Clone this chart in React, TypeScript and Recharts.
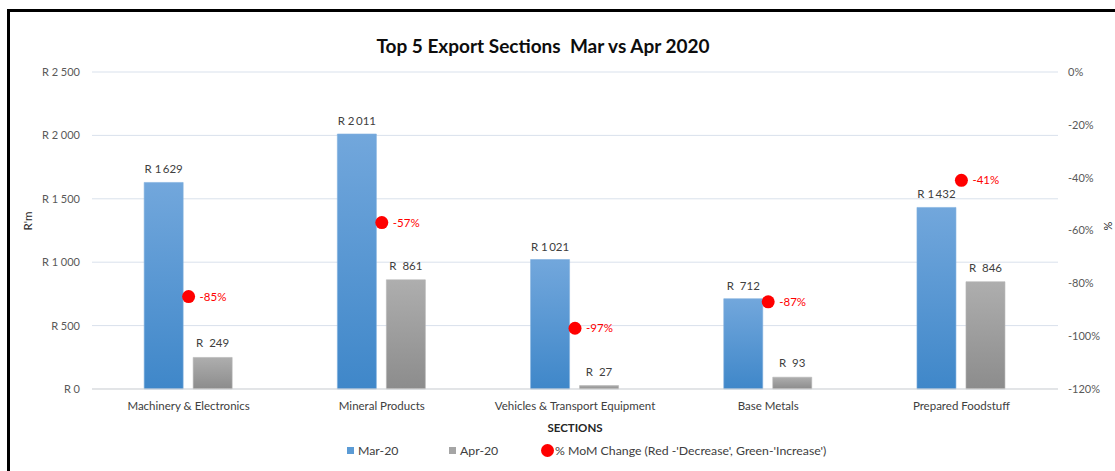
import {
  Bar,
  CartesianGrid,
  ComposedChart,
  LabelList,
  Legend,
  Scatter,
  XAxis,
  YAxis,
} from "recharts";

const sections = [
  "Machinery & Electronics",
  "Mineral Products",
  "Vehicles & Transport Equipment",
  "Base Metals",
  "Prepared Foodstuff",
];
const mar20 = [1629, 2011, 1021, 712, 1432];
const apr20 = [249, 861, 27, 93, 846];
const momChange = [-85, -57, -97, -87, -41];
const randTicks = [0, 500, 1000, 1500, 2000, 2500];
const pctTicks = [-120, -100, -80, -60, -40, -20, 0];

const MOM_NAME = "% MoM Change (Red -'Decrease', Green-'Increase')";

const data = sections.map((section, i) => ({
  section,
  mar: mar20[i],
  apr: apr20[i],
  mom: momChange[i],
}));

const FONT = "Lato, 'Open Sans', sans-serif";
const TEXT = "#404040";

function randTick(v: number) {
  if (v < 1000) return `R ${v}`;
  const rest = String(v % 1000).padStart(3, "0");
  return `R ${Math.floor(v / 1000)} ${rest}`;
}

function randLabel(v: number) {
  if (v < 1000) return `R\u00A0\u00A0${v}`;
  const rest = String(v % 1000).padStart(3, "0");
  return `R\u00A0${Math.floor(v / 1000)}\u2009${rest}`;
}

function MomDot(props: any) {
  const { cx, cy, payload } = props;
  const color = payload.mom < 0 ? "#FF0000" : "#00B050";
  return (
    <g>
      <circle cx={cx} cy={cy} r={6.5} fill={color} />
      <text
        x={cx + 11}
        y={cy}
        dy="0.35em"
        fill={color}
        fontSize={11.5}
        fontFamily={FONT}
      >
        {payload.mom}%
      </text>
    </g>
  );
}

const legendItems = [
  { name: "Mar-20", color: "#5B9BD5", type: "square", width: 102 },
  { name: "Apr-20", color: "#A5A5A5", type: "square", width: 98 },
  { name: MOM_NAME, color: "#FF0000", type: "circle", width: 320 },
];

function LegendContent() {
  return (
    <div
      style={{
        display: "flex",
        paddingLeft: 347,
        fontFamily: FONT,
        fontSize: 12.3,
        color: TEXT,
        alignItems: "center",
        height: 18,
      }}
    >
      {legendItems.map((item) => (
        <div
          key={item.name}
          style={{
            display: "flex",
            alignItems: "center",
            width: item.width,
            flex: "none",
            whiteSpace: "nowrap",
          }}
        >
          {item.type === "circle" ? (
            <span
              style={{
                display: "inline-block",
                width: 13,
                height: 13,
                borderRadius: "50%",
                background: item.color,
                marginLeft: -6,
                marginRight: 1,
              }}
            />
          ) : (
            <span
              style={{
                display: "inline-block",
                width: 7,
                height: 7,
                background: item.color,
                marginRight: 4,
              }}
            />
          )}
          {item.name}
        </div>
      ))}
    </div>
  );
}

export default function App() {
  return (
    <div
      style={{
        position: "fixed",
        left: 0,
        top: 0,
        width: 1115,
        height: 471,
        background: "#fff",
        overflow: "hidden",
      }}
    >
      <div
        style={{
          position: "absolute",
          left: 7,
          top: 9,
          right: 0,
          bottom: 0,
          borderTop: "3px solid #000",
          borderLeft: "3px solid #000",
        }}
      />
      <div
        style={{
          position: "absolute",
          left: 0,
          width: 1086,
          top: 34,
          textAlign: "center",
          fontFamily: FONT,
          fontWeight: 700,
          fontSize: 19,
          color: "#0d0d0d",
          whiteSpace: "pre",
        }}
      >
        {"Top 5 Export Sections  Mar vs Apr 2020"}
      </div>
      <ComposedChart
        width={1115}
        height={471}
        data={data}
        margin={{ top: 72, right: 0, bottom: 52, left: 8 }}
        barCategoryGap="27%"
        barGap={10}
        style={{ position: "absolute", left: 0, top: 0 }}
      >
        <defs>
          <linearGradient id="gradMar" x1="0" y1="0" x2="0" y2="1">
            <stop offset="0%" stopColor="#72A7DC" />
            <stop offset="100%" stopColor="#3F87C9" />
          </linearGradient>
          <linearGradient id="gradApr" x1="0" y1="0" x2="0" y2="1">
            <stop offset="0%" stopColor="#AEAEAE" />
            <stop offset="100%" stopColor="#8C8C8C" />
          </linearGradient>
        </defs>
        <CartesianGrid
          yAxisId="rand"
          vertical={false}
          stroke="#D9E1EC"
          strokeWidth={1}
        />
        <XAxis
          dataKey="section"
          height={30}
          axisLine={{ stroke: "#D9D9D9" }}
          tickLine={false}
          tickMargin={7}
          interval={0}
          tick={{ fontSize: 11.5, fill: TEXT, fontFamily: FONT }}
          label={{
            value: "SECTIONS",
            position: "bottom",
            offset: 5,
            fontSize: 11.5,
            fontWeight: 700,
            fill: "#262626",
            fontFamily: FONT,
          }}
        />
        <YAxis
          yAxisId="rand"
          orientation="left"
          width={84}
          domain={[0, 2500]}
          ticks={randTicks}
          tickFormatter={randTick}
          axisLine={false}
          tickLine={false}
          tickMargin={6}
          tick={{ fontSize: 11, fill: "#595959", fontFamily: FONT }}
          label={{
            value: "R'm",
            angle: -90,
            position: "insideLeft",
            offset: 20,
            fontSize: 11.5,
            fill: "#262626",
            fontFamily: FONT,
          }}
        />
        <YAxis
          yAxisId="pct"
          orientation="right"
          width={57}
          domain={[-120, 0]}
          ticks={pctTicks}
          tickFormatter={(v: number) => `${v}%`}
          axisLine={false}
          tickLine={false}
          tickMargin={4}
          tick={{
            fontSize: 11,
            fill: "#595959",
            fontFamily: FONT,
            textAnchor: "start",
          }}
          label={{
            value: "%",
            angle: 90,
            position: "insideRight",
            offset: 7,
            fontSize: 11,
            fill: "#262626",
            fontFamily: FONT,
          }}
        />
        <Legend
          verticalAlign="middle"
          layout="horizontal"
          wrapperStyle={{ top: 441, left: 0, width: 1115 }}
          content={LegendContent}
        />
        <Bar
          yAxisId="rand"
          dataKey="mar"
          name="Mar-20"
          fill="url(#gradMar)"
          stroke="#7FB0DF"
          strokeWidth={0.6}
          legendType="square"
          isAnimationActive={false}
        >
          <LabelList
            dataKey="mar"
            position="top"
            offset={9}
            formatter={(v: any) => randLabel(Number(v))}
            style={{ fontSize: 11.5, fill: TEXT, fontFamily: FONT }}
          />
        </Bar>
        <Bar
          yAxisId="rand"
          dataKey="apr"
          name="Apr-20"
          fill="url(#gradApr)"
          stroke="#B5B5B5"
          strokeWidth={0.6}
          legendType="square"
          isAnimationActive={false}
        >
          <LabelList
            dataKey="apr"
            position="top"
            offset={10}
            formatter={(v: any) => randLabel(Number(v))}
            style={{ fontSize: 11.5, fill: TEXT, fontFamily: FONT }}
          />
        </Bar>
        <Scatter
          yAxisId="pct"
          dataKey="mom"
          name={MOM_NAME}
          shape={MomDot}
          legendType="circle"
          isAnimationActive={false}
        />
      </ComposedChart>
    </div>
  );
}
